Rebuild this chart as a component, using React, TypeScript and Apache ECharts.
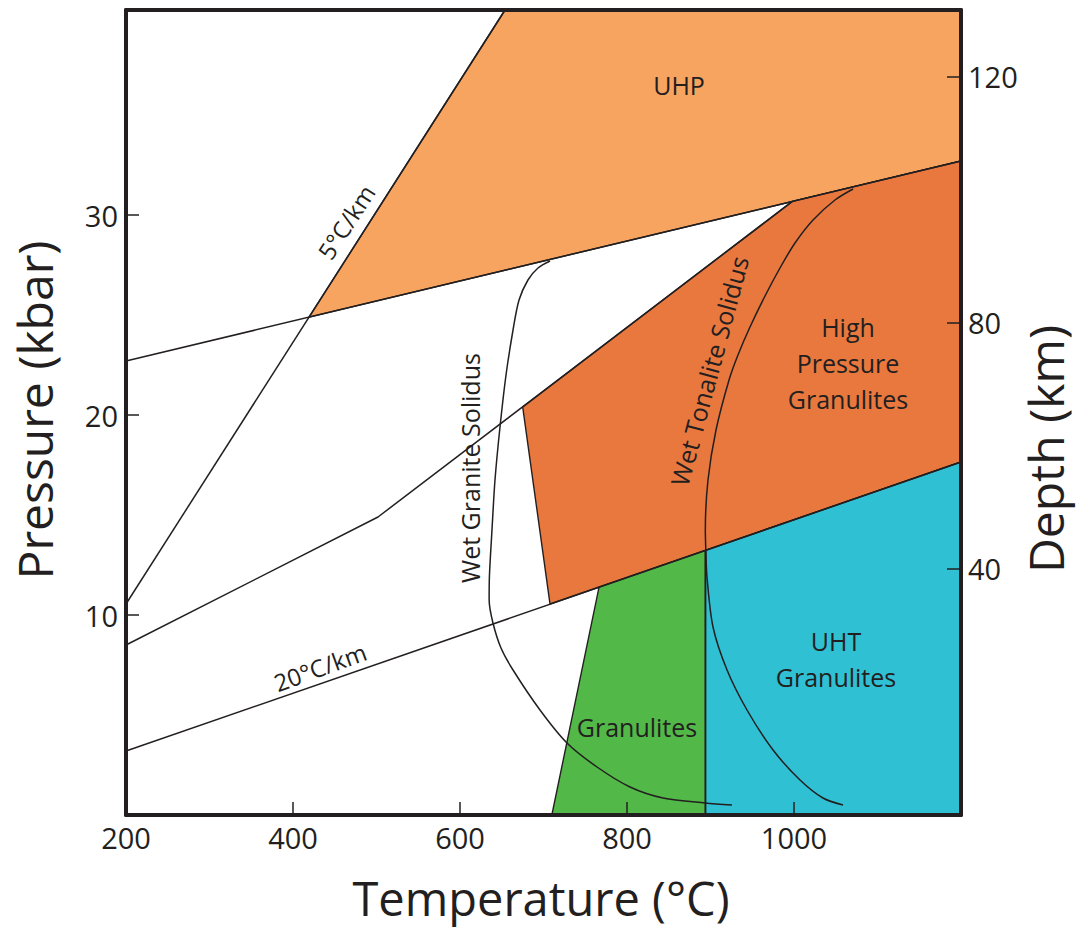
import React, { useEffect, useRef } from "react";
import * as echarts from "echarts";

// ---- axis ranges & ticks ----
const T_MIN = 200;
const T_MAX = 1200;
const P_MIN = 0;
const P_MAX = 40.25;
const KM_PER_KBAR = 3.25;
const DEPTH_MAX = P_MAX * KM_PER_KBAR;

const tempLabels = [200, 400, 600, 800, 1000];
const tempTicks = [400, 600, 800, 1000];
const pressureTicks = [10, 20, 30];
const depthTicks = [40, 80, 120];

// ---- fields (T °C, P kbar) ----
const uhpField = [[653.9, 40.25], [1200, 40.25], [1200, 32.7], [419.2, 24.89]];
const hpGranuliteField = [[675.1, 20.4], [998, 30.68], [1200, 32.7], [1200, 17.65], [707.8, 10.55]];
const granuliteField = [[710, 0], [766.5, 11.39], [894, 13.23], [894, 0]];
const uhtField = [[894, 0], [894, 13.23], [1200, 17.65], [1200, 0]];

// ---- lines ----
const geotherm5 = [[200, 10.55], [653.9, 40.25]];
const uhpBase = [[200, 22.7], [1200, 32.7]];
const hpBoundary = [[200, 8.5], [501.8, 14.9], [998, 30.68]];
const geotherm20 = [[200, 3.2], [1200, 17.65]];
const uhtBoundary = [[894, 0], [894, 13.23]];

const wetGraniteSolidus = [
  [707.8, 27.7], [693.4, 27.35], [681.4, 26.75], [670.7, 25.75], [663.5, 24.25],
  [655.1, 22.0], [647.9, 19.4], [641.9, 16.75], [638.3, 14.25], [635.3, 12.0],
  [634.9, 10.75], [639.5, 9.6], [649.1, 8.35], [663.5, 7.25], [695.8, 5.25],
  [728.1, 3.6], [764.1, 2.4], [803.6, 1.4], [843.1, 0.85], [893.4, 0.6], [925.7, 0.5],
];

const wetTonaliteSolidus = [
  [1070.7, 31.3], [1049.1, 30.75], [1022.8, 29.75], [1001.2, 28.6], [983.2, 27.35],
  [965.3, 25.95], [947.3, 24.4], [932.9, 23.0], [922.2, 21.75], [906.6, 19.25],
  [897.0, 16.75], [893.8, 14.25], [894.4, 13.25], [895.8, 11.9], [903.0, 9.4],
  [919.8, 7.25], [943.7, 5.25], [974.9, 3.25], [1007.2, 1.75], [1034.7, 0.85], [1058.7, 0.5],
];

const INK = "#231F20";
const FONT = "'Open Sans', 'Noto Sans', sans-serif";
const COLORS = {
  uhp: "#F6A460",
  hp: "#E8783E",
  gran: "#52B848",
  uht: "#30C0D4",
};

function polygonSeries(name: string, pts: number[][], color: string) {
  return {
    type: "custom",
    name,
    coordinateSystem: "cartesian2d",
    xAxisIndex: 0,
    yAxisIndex: 0,
    data: pts,
    clip: true,
    silent: true,
    z: 1,
    renderItem: (params: any, api: any) => {
      if (params.dataIndex !== 0) return null;
      const points = pts.map((p) => api.coord(p));
      return {
        type: "polygon",
        shape: { points },
        style: { fill: color, stroke: INK, lineWidth: 1.4 },
      };
    },
  };
}

function lineSeries(name: string, pts: number[][], smooth: number | boolean = false) {
  return {
    type: "line",
    name,
    xAxisIndex: 0,
    yAxisIndex: 0,
    data: pts,
    smooth,
    showSymbol: false,
    symbol: "none",
    silent: true,
    clip: true,
    z: 3,
    lineStyle: { color: INK, width: 1.5 },
  };
}

function label(text: string, x: number, y: number, size: number, rotDeg = 0, lineHeight?: number) {
  return {
    type: "text",
    x,
    y,
    rotation: (rotDeg * Math.PI) / 180,
    z: 100,
    silent: true,
    style: {
      text,
      fontSize: size,
      fontFamily: FONT,
      fill: INK,
      align: "center",
      verticalAlign: "middle",
      textAlign: "center",
      textVerticalAlign: "middle",
      lineHeight: lineHeight ?? Math.round(size * 1.2),
    },
  };
}

const axisLineStyle = { show: true, onZero: false, lineStyle: { color: INK, width: 4 } };
const tickStyle = { color: INK, width: 1.5 };
const plain = (v: number) => String(v);
const tickLabel = { fontSize: 29, color: INK, fontFamily: FONT, formatter: plain };

export default function App() {
  const ref = useRef<HTMLDivElement>(null);

  useEffect(() => {
    if (!ref.current) return;
    const chart = echarts.init(ref.current, undefined, { renderer: "svg" });
    const option: any = {
      animation: false,
      backgroundColor: "#ffffff",
      textStyle: { fontFamily: FONT, color: INK },
      grid: { left: 126, right: 118, top: 10, bottom: 117, containLabel: false },
      xAxis: [
        {
          type: "value",
          min: T_MIN,
          max: T_MAX,
          interval: 200,
          position: "bottom",
          z: 10,
          axisLine: axisLineStyle,
          axisTick: { show: true, inside: true, length: 13, lineStyle: tickStyle, customValues: tempTicks },
          axisLabel: { show: true, margin: 8, customValues: tempLabels, ...tickLabel },
          splitLine: { show: false },
        },
        {
          type: "value",
          min: T_MIN,
          max: T_MAX,
          position: "top",
          z: 10,
          axisLine: axisLineStyle,
          axisTick: { show: false },
          axisLabel: { show: false },
          splitLine: { show: false },
        },
      ],
      yAxis: [
        {
          type: "value",
          min: P_MIN,
          max: P_MAX,
          position: "left",
          z: 10,
          axisLine: axisLineStyle,
          axisTick: { show: true, inside: true, length: 13, lineStyle: tickStyle, customValues: pressureTicks },
          axisLabel: { show: true, margin: 8, customValues: pressureTicks, ...tickLabel },
          splitLine: { show: false },
        },
        {
          type: "value",
          min: 0,
          max: DEPTH_MAX,
          position: "right",
          z: 10,
          axisLine: axisLineStyle,
          axisTick: { show: true, inside: true, length: 14, lineStyle: tickStyle, customValues: depthTicks },
          axisLabel: { show: true, margin: 7, customValues: depthTicks, ...tickLabel },
          splitLine: { show: false },
        },
      ],
      series: [
        polygonSeries("UHP", uhpField, COLORS.uhp),
        polygonSeries("High Pressure Granulites", hpGranuliteField, COLORS.hp),
        polygonSeries("Granulites", granuliteField, COLORS.gran),
        polygonSeries("UHT Granulites", uhtField, COLORS.uht),
        lineSeries("5°C/km", geotherm5),
        lineSeries("UHP base", uhpBase),
        lineSeries("HP boundary", hpBoundary),
        lineSeries("20°C/km", geotherm20),
        lineSeries("UHT boundary", uhtBoundary),
        lineSeries("Wet Granite Solidus", wetGraniteSolidus, 0.3),
        lineSeries("Wet Tonalite Solidus", wetTonaliteSolidus, 0.3),
      ],
      graphic: [
        label("UHP", 679, 85, 25),
        label("High\nPressure\nGranulites", 848, 363, 25, 0, 36),
        label("UHT\nGranulites", 836, 659, 25, 0, 36),
        label("Granulites", 637, 727, 25),
        label("5°C/km", 346, 222, 24, 57),
        label("20°C/km", 320, 667, 24, 20),
        label("Wet Granite Solidus", 470, 468, 25, 90),
        label("Wet Tonalite Solidus", 709, 371, 25, 75),
        label("Pressure (kbar)", 34, 410, 48, 90, 48),
        label("Temperature (°C)", 541, 898, 47, 0, 47),
        label("Depth (km)", 1045, 449, 48, 90, 48),
      ],
    };
    chart.setOption(option);
    return () => chart.dispose();
  }, []);

  return (
    <div
      ref={ref}
      style={{ position: "absolute", left: 0, top: 0, width: 1079, height: 932 }}
    />
  );
}
